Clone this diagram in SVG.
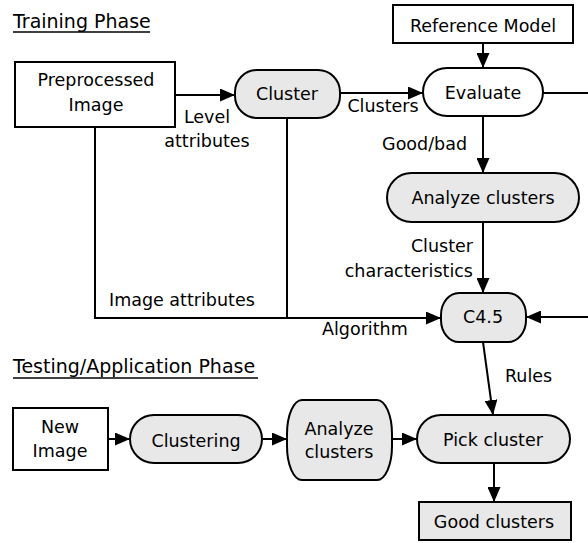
<svg xmlns="http://www.w3.org/2000/svg" width="588" height="543" viewBox="0 0 588 543">
<defs>
<style>
text{font-family:"DejaVu Sans","Liberation Sans",sans-serif;font-size:17.5px;fill:#000}
.c{text-anchor:middle}
.e{text-anchor:end}
.t{font-size:19px}
.box{fill:#fff;stroke:#000;stroke-width:2}
.g{fill:#e8e8e8;stroke:#000;stroke-width:2}
.ln{fill:none;stroke:#000;stroke-width:2}
</style>
<marker id="ah" markerUnits="userSpaceOnUse" markerWidth="15" markerHeight="13" refX="15" refY="6.5" orient="auto">
<path d="M0,0 L15,6.5 L0,13 z" fill="#000"/>
</marker>
</defs>
<rect width="588" height="543" fill="#fff"/>

<g id="titles">
<text x="13" y="28" class="t">Training Phase</text>
<line x1="13" y1="32" x2="150" y2="32" stroke="#000" stroke-width="1.5"/>
<text x="13" y="373" class="t">Testing/Application Phase</text>
<line x1="13" y1="378" x2="258" y2="378" stroke="#000" stroke-width="1.5"/>
</g>

<g id="connectors">
<line class="ln" x1="175" y1="95" x2="235" y2="95" marker-end="url(#ah)"/>
<line class="ln" x1="340" y1="93" x2="423" y2="93" marker-end="url(#ah)"/>
<line class="ln" x1="483" y1="43" x2="483" y2="68" marker-end="url(#ah)"/>
<line class="ln" x1="483" y1="116" x2="483" y2="173" marker-end="url(#ah)"/>
<line class="ln" x1="483" y1="222" x2="483" y2="293" marker-end="url(#ah)"/>
<path class="ln" d="M543,93 H591 V317 H526" marker-end="url(#ah)"/>
<path class="ln" d="M95,127 V318 H441" marker-end="url(#ah)"/>
<path class="ln" d="M287,118 V318"/>
<line class="ln" x1="483" y1="342" x2="493" y2="415" marker-end="url(#ah)"/>
<line class="ln" x1="108" y1="439" x2="130" y2="439" marker-end="url(#ah)"/>
<line class="ln" x1="262" y1="439" x2="287" y2="439" marker-end="url(#ah)"/>
<line class="ln" x1="392" y1="439" x2="417" y2="439" marker-end="url(#ah)"/>
<line class="ln" x1="494" y1="463" x2="494" y2="502" marker-end="url(#ah)"/>
<text x="207" y="123" class="c">Level</text>
<text x="207" y="147" class="c">attributes</text>
<text x="383" y="112" class="c">Clusters</text>
<text x="467" y="150" class="e">Good/bad</text>
<text x="473" y="252" class="e">Cluster</text>
<text x="473" y="277" class="e">characteristics</text>
<text x="109" y="306">Image attributes</text>
<text x="322" y="335">Algorithm</text>
<text x="505" y="382">Rules</text>
</g>

<g id="preprocessed">
<rect class="box" x="15" y="62" width="160" height="65"/>
<text x="96" y="86" class="c">Preprocessed</text>
<text x="96" y="111" class="c">Image</text>
</g>
<g id="cluster">
<rect class="g" x="235" y="70" width="105" height="48" rx="22" ry="22"/>
<text x="287" y="100" class="c">Cluster</text>
</g>
<g id="reference-model">
<rect class="box" x="393" y="5" width="180" height="38"/>
<text x="483" y="32" class="c">Reference Model</text>
</g>
<g id="evaluate">
<rect class="box" x="423" y="68" width="120" height="48" rx="24" ry="24"/>
<text x="483" y="99" class="c">Evaluate</text>
</g>
<g id="analyze-train">
<rect class="g" x="387" y="173" width="192" height="49" rx="24.5" ry="24.5"/>
<text x="483" y="204" class="c">Analyze clusters</text>
</g>
<g id="c45">
<rect class="g" x="441" y="293" width="85" height="49" rx="18" ry="22"/>
<text x="483" y="323" class="c">C4.5</text>
</g>
<g id="new-image">
<rect class="box" x="13" y="408" width="95" height="62"/>
<text x="60" y="433" class="c">New</text>
<text x="60" y="457" class="c">Image</text>
</g>
<g id="clustering">
<rect class="g" x="130" y="415" width="132" height="48" rx="24" ry="24"/>
<text x="196" y="447" class="c">Clustering</text>
</g>
<g id="analyze-test">
<rect class="g" x="287" y="400" width="105" height="80" rx="15" ry="34"/>
<text x="339" y="435" class="c">Analyze</text>
<text x="339" y="458" class="c">clusters</text>
</g>
<g id="pick-cluster">
<rect class="g" x="417" y="415" width="153" height="48" rx="24" ry="24"/>
<text x="493" y="446" class="c">Pick cluster</text>
</g>
<g id="good-clusters">
<rect class="g" x="419" y="502" width="152" height="38"/>
<text x="494" y="528" class="c">Good clusters</text>
</g>
</svg>
